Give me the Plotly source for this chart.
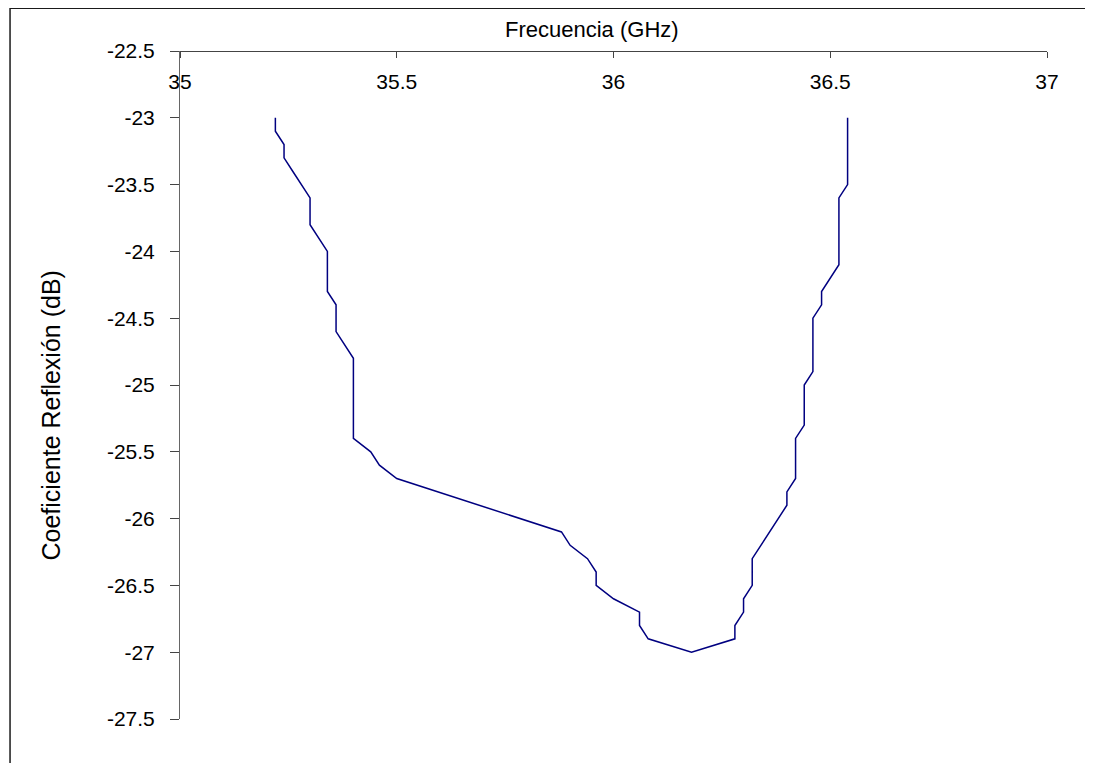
import plotly.graph_objects as go

# Frequency (GHz) and reflection coefficient (dB)
freq_ghz = [35.22, 35.22, 35.24, 35.24, 35.26, 35.28, 35.30, 35.30, 35.34, 35.34,
            35.36, 35.36, 35.38, 35.40, 35.40, 35.44, 35.46, 35.50, 35.88, 35.90,
            35.94, 35.96, 35.96, 36.00, 36.06, 36.06, 36.08, 36.18, 36.28, 36.28,
            36.30, 36.30, 36.32, 36.32, 36.34, 36.38, 36.40, 36.40, 36.42, 36.42,
            36.44, 36.44, 36.46, 36.46, 36.48, 36.48, 36.50, 36.52, 36.52, 36.54,
            36.54]
refl_db = [-23.0, -23.1, -23.2, -23.3, -23.4, -23.5, -23.6, -23.8, -24.0, -24.3,
           -24.4, -24.6, -24.7, -24.8, -25.4, -25.5, -25.6, -25.7, -26.1, -26.2,
           -26.3, -26.4, -26.5, -26.6, -26.7, -26.8, -26.9, -27.0, -26.9, -26.8,
           -26.7, -26.6, -26.5, -26.3, -26.2, -26.0, -25.9, -25.8, -25.7, -25.4,
           -25.3, -25.0, -24.9, -24.5, -24.4, -24.3, -24.2, -24.1, -23.6, -23.5,
           -23.0]

x_ticks = [35, 35.5, 36, 36.5, 37]
x_tick_text = ["35", "35.5", "36", "36.5", "37"]
y_ticks = [-22.5, -23, -23.5, -24, -24.5, -25, -25.5, -26, -26.5, -27, -27.5]
y_tick_text = ["-22.5", "-23", "-23.5", "-24", "-24.5", "-25", "-25.5", "-26", "-26.5", "-27", "-27.5"]

x_title = "Frecuencia (GHz)"
y_title = "Coeficiente Reflexión (dB)"

# the page body has an 8px margin, so figure coords = screen coords - 8
W, H = 1093, 763
L, T = 171.5, 43
R, B = W - 1038.7, H - 711
pw, ph = W - L - R, H - T - B


def px_to_paper(px, py):
    return (px - L) / pw, (H - B - py) / ph


FONT = "Liberation Sans, Arial, sans-serif"

fig = go.Figure()
fig.add_trace(go.Scatter(
    x=freq_ghz, y=refl_db, mode="lines",
    line=dict(color="#000080", width=1.5),
    showlegend=False, hoverinfo="x+y",
))

fig.update_xaxes(
    range=[35, 37], side="bottom", anchor="free", position=1,
    tickvals=x_ticks, ticktext=x_tick_text,
    ticks="outside", ticklen=6, tickcolor="#444", ticklabelstandoff=6,
    showline=True, linecolor="#444", linewidth=1, showgrid=False, zeroline=False,
    tickfont=dict(family=FONT, size=21, color="#000"),
)
fig.update_yaxes(
    range=[-27.5, -22.5], domain=[0, 1], tickvals=y_ticks, ticktext=y_tick_text,
    ticks="outside", ticklen=9, tickcolor="#444", ticklabelstandoff=11,
    showline=True, linecolor="#666", linewidth=1, showgrid=False, zeroline=False,
    tickfont=dict(family=FONT, size=21, color="#000"),
)

tx, ty = px_to_paper(584, 22)
yx, yy = px_to_paper(42, 408)
fx0, fy0 = px_to_paper(1.5, 0)
fx1, fy1 = px_to_paper(W + 10, H + 10)

fig.update_layout(
    width=W, height=H,
    margin=dict(l=L, r=R, t=T, b=B, pad=0),
    paper_bgcolor="white", plot_bgcolor="white",
    annotations=[
        dict(text=x_title, x=tx, y=ty, xref="paper", yref="paper",
             xanchor="center", yanchor="middle", showarrow=False,
             font=dict(family=FONT, size=22, color="#000")),
        dict(text=y_title, x=yx, y=yy, xref="paper", yref="paper",
             xanchor="center", yanchor="middle", showarrow=False, textangle=-90,
             font=dict(family=FONT, size=25, color="#000")),
    ],
    shapes=[
        dict(type="line", xref="paper", yref="paper", x0=fx0, y0=fy0, x1=fx1, y1=fy0,
             line=dict(color="#1a1a1a", width=2)),
        dict(type="line", xref="paper", yref="paper", x0=fx0, y0=fy0, x1=fx0, y1=fy1,
             line=dict(color="#1a1a1a", width=1.5)),
    ],
)

fig.write_html("out.html")
